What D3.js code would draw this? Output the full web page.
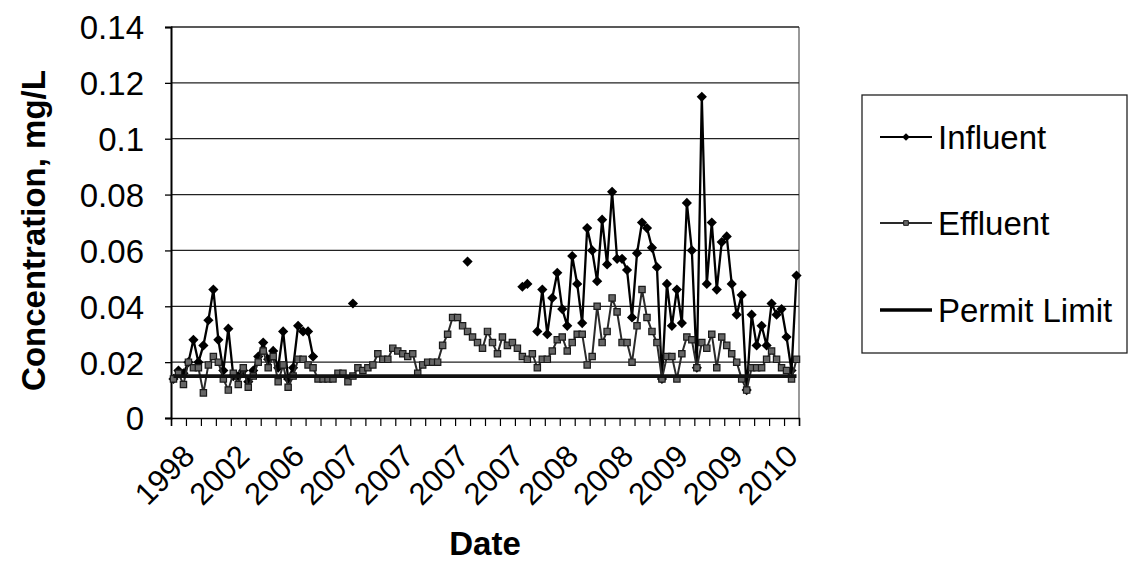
<!DOCTYPE html>
<html><head><meta charset="utf-8">
<script src="https://cdn.jsdelivr.net/npm/d3@7"></script>
<style>html,body{margin:0;padding:0;background:#fff;}svg{display:block;}</style>
</head><body>
<svg id="chart" width="1128" height="573"></svg>
<script>
// ---- data ----
const xTickLabels = ["1998","2002","2006","2007","2007","2007","2007","2008","2008","2009","2009","2010"];
const labelEvery = 11;   // one label every 11 samples
const tickEvery = 3;     // one tick mark every 3 samples
const yTicks = [0, 0.02, 0.04, 0.06, 0.08, 0.1, 0.12, 0.14];
const yTickLabels = ["0", "0.02", "0.04", "0.06", "0.08", "0.1", "0.12", "0.14"];
const seriesNames = ["Influent", "Effluent", "Permit Limit"];

const effluent = [
 0.014,0.016,0.012,0.020,0.018,0.018,0.009,0.019,0.022,0.020,
 0.014,0.010,0.016,0.012,0.018,0.011,0.015,0.020,0.024,0.018,
 0.022,0.013,0.019,0.011,0.015,0.021,0.021,0.019,0.018,0.014,
 0.014,0.014,0.014,0.016,0.016,0.013,0.015,0.018,0.017,0.018,
 0.019,0.023,0.021,0.021,0.025,0.024,0.023,0.022,0.023,0.016,
 0.019,0.020,0.020,0.020,0.026,0.030,0.036,0.036,0.033,0.031,
 0.029,0.027,0.025,0.031,0.027,0.023,0.029,0.026,0.027,0.025,
 0.022,0.021,0.023,0.018,0.021,0.021,0.024,0.028,0.029,0.024,
 0.027,0.030,0.030,0.019,0.022,0.040,0.027,0.031,0.043,0.038,
 0.027,0.027,0.020,0.033,0.046,0.036,0.031,0.027,0.014,0.022,
 0.022,0.014,0.023,0.029,0.028,0.018,0.027,0.025,0.030,0.018,
 0.029,0.026,0.023,0.020,0.014,0.010,0.018,0.018,0.018,0.021,
 0.024,0.021,0.018,0.017,0.014,0.021
];
const influent = [
 0.014,0.017,0.016,0.020,0.028,0.020,0.026,0.035,0.046,0.028,
 0.017,0.032,0.015,0.015,0.017,0.013,0.017,0.022,0.027,0.021,
 0.024,0.018,0.031,0.014,0.018,0.033,0.031,0.031,0.022,null,
 null,null,null,null,null,null,0.041,null,null,null,
 null,null,null,null,null,null,null,null,null,null,
 null,null,null,null,null,null,null,null,null,0.056,
 null,null,null,null,null,null,null,null,null,null,
 0.047,0.048,null,0.031,0.046,0.030,0.043,0.052,0.039,0.033,
 0.058,0.048,0.034,0.068,0.060,0.049,0.071,0.055,0.081,0.057,
 0.057,0.053,0.036,0.059,0.070,0.068,0.061,0.054,0.014,0.048,
 0.033,0.046,0.034,0.077,0.060,0.018,0.115,0.048,0.070,0.046,
 0.063,0.065,0.048,0.037,0.044,0.010,0.037,0.026,0.033,0.026,
 0.041,0.037,0.039,0.029,0.017,0.051
];
const permitLimitValue = 0.015;
const permitLimit = effluent.map(() => permitLimitValue);

// ---- layout ----
const svg = d3.select("#chart");
const W = 1128, H = 573;
const plot = {left: 171, right: 799, top: 27, bottom: 418};
const FONT = "'Liberation Sans', Arial, Helvetica, sans-serif";
const N = effluent.length;

const x = d3.scaleLinear().domain([0, N]).range([plot.left, plot.right]);
const cx = i => x(i + 0.5);
const y = d3.scaleLinear().domain([0, 0.14]).range([plot.bottom, plot.top]);

svg.append("rect").attr("width", W).attr("height", H).attr("fill", "#fff");

// plot-area border (right side grey)
svg.append("line").attr("x1", plot.right).attr("x2", plot.right)
  .attr("y1", plot.top).attr("y2", plot.bottom)
  .attr("stroke", "#777").attr("stroke-width", 1.5);

// gridlines
svg.append("g").selectAll("line").data(yTicks.filter(d => d > 0)).join("line")
  .attr("x1", plot.left).attr("x2", plot.right)
  .attr("y1", d => y(d)).attr("y2", d => y(d))
  .attr("stroke", "#222").attr("stroke-width", 1.3);

// y axis
const yAxis = d3.axisLeft(y).tickValues(yTicks).tickSize(6)
  .tickFormat((d, i) => yTickLabels[i]);
const gy = svg.append("g").attr("transform", `translate(${plot.left},0)`).call(yAxis);
gy.select(".domain").attr("stroke", "#000").attr("stroke-width", 2);
gy.selectAll(".tick line").attr("stroke", "#000").attr("stroke-width", 1.3);
gy.selectAll(".tick text").attr("font-family", FONT).attr("font-size", 33)
  .attr("fill", "#000").attr("x", -27).attr("dy", "0.36em");

// x axis (ticks every 3 samples)
const xTickVals = d3.range(0, N + 1, tickEvery);
const xAxis = d3.axisBottom(x).tickValues(xTickVals).tickSize(8).tickFormat("");
const gx = svg.append("g").attr("transform", `translate(0,${plot.bottom})`).call(xAxis);
gx.select(".domain").attr("stroke", "#000").attr("stroke-width", 1.5);
gx.selectAll(".tick line").attr("stroke", "#000").attr("stroke-width", 1.2);

// x labels, rotated
const labelIdx = xTickLabels.map((d, k) => k * labelEvery);
svg.append("g").selectAll("text").data(xTickLabels).join("text")
  .attr("transform", (d, k) => `translate(${cx(labelIdx[k]) + 23},458) rotate(-45)`)
  .attr("text-anchor", "end")
  .attr("font-family", FONT).attr("font-size", 31).attr("fill", "#000")
  .text(d => d);

// axis titles
svg.append("text").attr("transform", `translate(45,${(plot.top + plot.bottom) / 2 + 8}) rotate(-90)`)
  .attr("text-anchor", "middle").attr("font-family", FONT).attr("font-weight", "bold")
  .attr("font-size", 33).text("Concentration, mg/L");
svg.append("text").attr("x", (plot.left + plot.right) / 2).attr("y", 555)
  .attr("text-anchor", "middle").attr("font-family", FONT).attr("font-weight", "bold")
  .attr("font-size", 33).text("Date");

// ---- series ----
const line = d3.line().defined(d => d != null).x((d, i) => cx(i)).y(d => y(d));
const diamond = d3.symbol().type(d3.symbolSquare).size(52);   // drawn rotated 45deg
const square = d3.symbol().type(d3.symbolSquare).size(40);

// Influent
svg.append("path").datum(influent).attr("d", line)
  .attr("fill", "none").attr("stroke", "#000").attr("stroke-width", 2.3);
svg.append("g").selectAll("path").data(influent.map((v, i) => ({v, i})).filter(d => d.v != null))
  .join("path").attr("d", diamond)
  .attr("transform", d => `translate(${cx(d.i)},${y(d.v)}) rotate(45)`)
  .attr("fill", "#000");

// Effluent
svg.append("path").datum(effluent).attr("d", line)
  .attr("fill", "none").attr("stroke", "#2a2a2a").attr("stroke-width", 2);
svg.append("g").selectAll("path").data(effluent.map((v, i) => ({v, i})))
  .join("path").attr("d", square)
  .attr("transform", d => `translate(${cx(d.i)},${y(d.v)})`)
  .attr("fill", "#666").attr("stroke", "#1a1a1a").attr("stroke-width", 1.2);

// Permit limit
svg.append("path").datum(permitLimit).attr("d", line)
  .attr("fill", "none").attr("stroke", "#111").attr("stroke-width", 3.6);

// ---- legend ----
const lg = svg.append("g");
lg.append("rect").attr("x", 862).attr("y", 95).attr("width", 265).attr("height", 258)
  .attr("fill", "#fff").attr("stroke", "#222").attr("stroke-width", 1.3);
const legY = [137, 223, 310];
seriesNames.forEach((name, k) => {
  const yy = legY[k];
  lg.append("line").attr("x1", 880).attr("x2", 932).attr("y1", yy).attr("y2", yy)
    .attr("stroke", k === 1 ? "#2a2a2a" : "#000").attr("stroke-width", k === 2 ? 3.6 : 2);
  if (k === 0) lg.append("path").attr("d", d3.symbol().type(d3.symbolSquare).size(30))
    .attr("transform", `translate(906,${yy}) rotate(45)`).attr("fill", "#000");
  if (k === 1) lg.append("path").attr("d", d3.symbol().type(d3.symbolSquare).size(22))
    .attr("transform", `translate(906,${yy})`).attr("fill", "#666").attr("stroke", "#1a1a1a");
  lg.append("text").attr("x", 938).attr("y", yy).attr("dy", "0.36em")
    .attr("font-family", FONT).attr("font-size", 33).attr("fill", "#000").text(name);
});
</script>
</body></html>
